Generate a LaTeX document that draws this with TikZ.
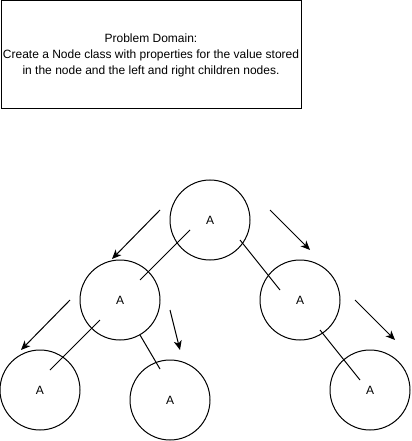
\documentclass[tikz,border=0pt]{standalone}
\usepackage{fontspec}
\setmainfont{Liberation Sans}
\usetikzlibrary{arrows.meta,positioning}

\begin{document}
\begin{tikzpicture}[
  x=0.75pt, y=-0.75pt,
  domainbox/.style={draw=black, line width=0.75pt, align=center,
                    font=\fontsize{9}{12}\selectfont,
                    minimum width=225pt, minimum height=81pt, inner sep=0pt},
  treenode/.style={draw=black, circle, line width=0.75pt, minimum size=60pt,
                   inner sep=0pt, font=\fontsize{9}{12}\selectfont},
  link/.style={black, line width=0.75pt},
  arrow/.style={-{Stealth[length=7pt, width=6pt, inset=2pt]}, black, line width=0.75pt},
]
\useasboundingbox (0,0) rectangle (411,441);

%% ---- Problem domain box ----
\node[domainbox] (domain) at (151,55)
  {Problem Domain:\\Create a Node class with properties for the value stored\\in the node and the left and right children nodes.};

%% ---- Tree nodes ----
\node[treenode] (root)  at (210,220) {A};
\node[treenode] (left)  at (120,300) {A};
\node[treenode] (right) at (300,300) {A};
\node[treenode] (ll)    at (40,390)  {A};
\node[treenode] (lr)    at (170,400) {A};
\node[treenode] (rr)    at (370,390) {A};

%% ---- Links between nodes ----
\coordinate (rootL) at (190,230); \coordinate (leftT)  at (140,280);
\coordinate (rootR) at (240,240); \coordinate (rightT) at (280,290);
\coordinate (leftL) at (100,320); \coordinate (llT)    at (50,370);
\coordinate (leftR) at (140,335); \coordinate (lrT)    at (160,369);
\coordinate (rightR) at (320,330); \coordinate (rrT)   at (360,380);

\draw[link] (rootL) -- (leftT);
\draw[link] (rootR) -- (rightT);
\draw[link] (leftL) -- (llT);
\draw[link] (leftR) -- (lrT);
\draw[link] (rightR) -- (rrT);

%% ---- Direction arrows ----
\coordinate (a1s) at (160,210); \coordinate (a1e) at (112,259);
\coordinate (a2s) at (270,210); \coordinate (a2e) at (310,250);
\coordinate (a3s) at (70,300);  \coordinate (a3e) at (21,350);
\coordinate (a4s) at (170,310); \coordinate (a4e) at (180,350);
\coordinate (a5s) at (355,300); \coordinate (a5e) at (395,340);

\draw[arrow] (a1s) -- (a1e);
\draw[arrow] (a2s) -- (a2e);
\draw[arrow] (a3s) -- (a3e);
\draw[arrow] (a4s) -- (a4e);
\draw[arrow] (a5s) -- (a5e);

\end{tikzpicture}
\end{document}
